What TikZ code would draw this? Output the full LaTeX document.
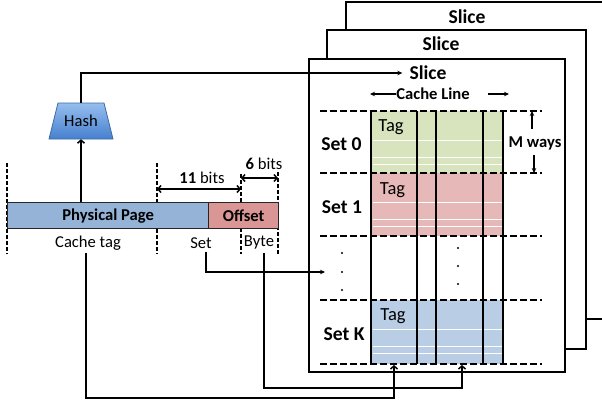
\documentclass[tikz,border=0pt]{standalone}
\usepackage{fontspec}
\setmainfont{Carlito}
\usetikzlibrary{arrows.meta,calc}
\definecolor{ppblue}{RGB}{149,179,215}
\definecolor{offred}{RGB}{217,150,148}
\definecolor{gfill}{RGB}{215,228,189}
\definecolor{rfill}{RGB}{230,185,184}
\definecolor{bfill}{RGB}{185,205,229}
\definecolor{hashtop}{RGB}{150,190,238}
\definecolor{hashbot}{RGB}{70,128,206}
\definecolor{hashedge}{RGB}{60,105,165}
\begin{document}
\begin{tikzpicture}[x=1bp,y=-1bp,
  every node/.style={font=\fontsize{16.6bp}{19bp}\selectfont, inner sep=0pt},
  big/.style={font=\fontsize{19.6bp}{22bp}\selectfont\bfseries},
  bb/.style={font=\fontsize{16.6bp}{19bp}\selectfont\bfseries},
  tagtxt/.style={font=\fontsize{18.5bp}{20bp}\selectfont},
  slicebox/.style={draw=black, line width=1.7bp, fill=white, anchor=north west},
  barbox/.style={draw=black!85, line width=1.3bp, anchor=north west, minimum height=26bp},
  sepline/.style={line width=1.6bp, dash pattern=on 6.5bp off 3.5bp},
  colline/.style={line width=2bp},
  wline/.style={white, line width=1.6bp},
  tickline/.style={line width=1.1bp, dash pattern=on 4bp off 2bp},
  conn/.style={line width=1.5bp, black},
  sharp/.style={-{Stealth[length=5bp,width=4.5bp]}},
  barb/.style={-{Straight Barb[length=3bp,width=7bp]}},
  dbarb/.style={{Straight Barb[length=3bp,width=7bp]}-{Straight Barb[length=3bp,width=7bp]}}
]
\useasboundingbox (0,0) rectangle (602,409);
\clip (0,0) rectangle (602,409);

% slices
\node[slicebox, minimum width=280bp, minimum height=317bp] (s3) at (345,1) {};
\node[slicebox, minimum width=259bp, minimum height=319bp] (s2) at (326,29) {};
\node[slicebox, minimum width=256bp, minimum height=313bp] (s1) at (308,58) {};
\node[big] (l3) at (467,17) {Slice};
\node[big] (l2) at (441,44) {Slice};
\node[big] (l1) at (428,73) {Slice};

% colored set blocks
\fill[gfill] (371,111) rectangle (503,173);
\fill[rfill] (371,173) rectangle (503,236);
\fill[bfill] (371,300) rectangle (503,364);
\foreach \t in {111,173,300}{
  \draw[wline] (373,\t+29.5) -- (502,\t+29.5);
  \draw[wline] (373,\t+46.5) -- (502,\t+46.5);
  \draw[wline] (373,\t+53.5) -- (502,\t+53.5);
}
\node[tagtxt] (tag0) at (391,127) {Tag};
\node[tagtxt] (tag1) at (392.5,190) {Tag};
\node[tagtxt] (tagK) at (393,316) {Tag};

% separators and columns
\foreach \y in {111,173,236,300,364}{
  \draw[sepline] (320,\y) -- (542,\y);
}
\foreach \x in {371,417,436,483,503}{
  \draw[colline] (\x,111) -- (\x,364);
}

% set labels
\node[big] (set0) at (341.5,144) {Set 0};
\node[big] (set1) at (342,207) {Set 1};
\node[big] (setK) at (344,334) {Set K};

% dots
\foreach \y in {253,272,290}{\fill (342,\y) circle (1.1);}
\foreach \y in {248,266,284}{\fill (458,\y) circle (1.1);}

% cache line
\node[bb] (cl) at (433,94) {Cache Line};
\coordinate (clL) at (370,94);
\coordinate (clR0) at (488,94);
\coordinate (clR) at (509,94);
\draw[conn, sharp] (cl.west) -- (clL);
\draw[conn, sharp] (clR0) -- (clR);

% M ways
\node[bb] (mw) at (535,143) {M ways};
\coordinate (mwT0) at (532,129);
\coordinate (mwT) at (532,111);
\coordinate (mwB0) at (534,155);
\coordinate (mwB) at (534,173);
\draw[conn, sharp] (mwT0) -- (mwT);
\draw[conn, sharp] (mwB0) -- (mwB);

% address bar dashed ticks
\draw[tickline] (7,163) -- (7,254);
\draw[tickline] (157,163) -- (157,254);
\draw[tickline] (241,174) -- (241,254);
\draw[tickline] (278,172) -- (278,254);

% address bar
\node[barbox, bb, fill=ppblue, minimum width=201bp] (pp) at (7,202) {Physical Page};
\node[barbox, bb, fill=offred, minimum width=70bp] (off) at (208,202) {Offset};

% bit widths
\node (b11) at (202,178) {\textbf{11} bits};
\node (b6) at (264,164) {\textbf{6} bits};
\draw[conn, dbarb] (157,189) -- (241,189);
\draw[conn, dbarb] (241,178) -- (278,178);

% labels under bar
\node (ct) at (88,243) {Cache tag};
\node (setl) at (201,243) {Set};
\node (byte) at (259,243) {Byte};

% hash
\shadedraw[top color=hashtop, bottom color=hashbot, draw=hashedge, line width=0.8bp]
  (49,139) -- (58,103) -- (104,103) -- (113,139) -- cycle;
\node[minimum width=64bp, minimum height=36bp] (hash) at (81,121) {Hash};

% connectors
\draw[conn, barb] (pp.north -| hash.south) -- (hash.south);
\draw[conn, sharp] (hash.north) |- ([xshift=-7bp]l1.west);

\coordinate (setin) at (325,272);
\draw[conn, sharp] ([xshift=5bp,yshift=-3bp]setl.south) |- (setin);

\coordinate (bytebend) at (462,388);
\coordinate (bytein) at (462,365);
\draw[conn, barb] ([xshift=5bp,yshift=-3bp]byte.south) |- (bytebend) -- (bytein);

\coordinate (tagbend) at (394,398);
\coordinate (tagin) at (394,365);
\draw[conn, barb] ([xshift=-2bp,yshift=-3bp]ct.south) |- (tagbend) -- (tagin);
\end{tikzpicture}
\end{document}
